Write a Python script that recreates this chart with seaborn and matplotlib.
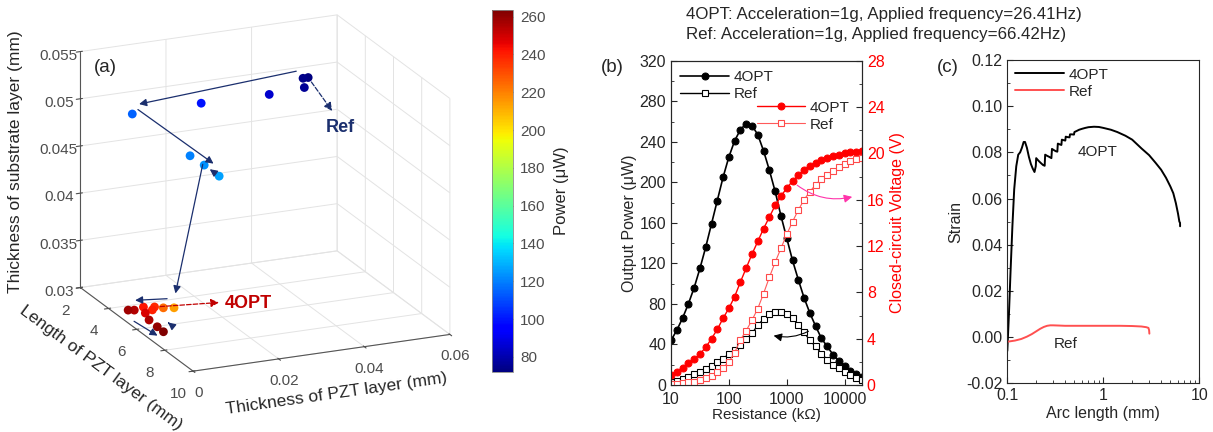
import numpy as np
import seaborn as sns
import matplotlib
matplotlib.use("Agg")
import matplotlib.pyplot as plt
from matplotlib.patches import FancyArrowPatch
from matplotlib.ticker import MultipleLocator, FormatStrFormatter, FixedLocator, LogLocator, NullFormatter
from mpl_toolkits.mplot3d import proj3d

# ---------------- data ----------------
# (a) design points: PZT thickness (mm), PZT length (mm), substrate thickness (mm), power (uW)
pzt_thk = [0.0438, 0.0450, 0.0441, 0.0359, 0.0200, 0.0039, 0.0174, 0.0207, 0.0242,
           0.0029, 0.0041, 0.0067, 0.0055, 0.0077, 0.0089, 0.0104, 0.0125, 0.0044, 0.0042, 0.0041]
pzt_len = [4.5, 4.5, 4.5, 4.5, 4.5, 4.5, 4.5, 4.5, 4.5,
           4.51, 4.58, 4.44, 4.94, 4.77, 4.56, 4.73, 4.85, 5.54, 6.18, 6.65]
sub_thk = [0.0521, 0.0521, 0.0511, 0.0509, 0.0510, 0.0509, 0.0456, 0.0444, 0.0430,
           0.0302, 0.0302, 0.0302, 0.0302, 0.0302, 0.0302, 0.0302, 0.0302, 0.0302, 0.0302, 0.0302]
power_pts = [74, 72, 76, 85, 99, 114, 120, 123, 126,
             258, 255, 242, 248, 240, 238, 224, 214, 256, 260, 263]
# optimisation path arrows: (from index, to index, offset in data units)
path_arrows = [(0, 5, (0, 0, 0.0009)), (5, 8, (0, 0, 0.0009)), (8, 7, (0, 0, 0)),
               (7, 16, (0, 0, 0.0008)), (16, 9, (0, 0, 0.0010)), (9, 19, (0, 0, -0.0008)),
               (19, 18, (0.0025, 0, 0.0003))]

# (b) resistance sweep
resistance = [10 ** (1 + 0.1 * k) for k in range(34)]
power_4opt = [44, 54, 66, 80, 96, 115, 136, 159, 182, 205, 225, 241, 252, 258, 256, 247, 231,
              212, 191, 167, 145, 123, 104, 86, 71, 58, 46, 38, 30, 24, 19, 14, 10.5, 8]
power_ref = [2.6, 4.3, 6, 8, 11, 13, 16, 19, 22.5, 26, 30.5, 34.5, 39, 45, 51, 59, 65,
             70, 72, 72, 70, 66, 59, 52, 44, 38, 31, 25, 20, 16.5, 13, 10, 7, 5]
volt_4opt = [0.86, 1.15, 1.5, 1.87, 2.22, 2.68, 3.25, 4.0, 4.8, 5.76, 6.62, 7.63, 8.9, 10.1,
             11.3, 12.4, 13.5, 14.5, 15.5, 16.3, 17.0, 17.6, 18.1, 18.6, 18.9, 19.2, 19.4,
             19.6, 19.8, 19.9, 20.0, 20.1, 20.15, 20.2]
volt_ref = [0.05, 0.1, 0.15, 0.22, 0.3, 0.42, 0.58, 0.8, 1.1, 1.5, 2.0, 2.8, 3.9, 4.7, 5.6,
            6.6, 7.9, 9.3, 10.6, 11.8, 13.0, 14.1, 15.1, 16.0, 16.7, 17.3, 17.8, 18.1, 18.5,
            18.8, 19.1, 19.3, 19.5, 19.6]

# (c) strain along arc length
arc_4opt = [0.100, 0.104, 0.108, 0.113, 0.118, 0.124, 0.130, 0.136, 0.142, 0.148, 0.153,
            0.160, 0.168, 0.176, 0.184, 0.192, 0.198, 0.200, 0.210, 0.222, 0.236, 0.245,
            0.248, 0.260, 0.275, 0.288, 0.292, 0.305, 0.320, 0.332, 0.336, 0.350, 0.366,
            0.370, 0.385, 0.402, 0.406, 0.425, 0.445, 0.450, 0.470, 0.495, 0.50, 0.53, 0.56,
            0.60, 0.65, 0.70, 0.80, 0.90, 1.0, 1.2, 1.4, 1.7, 2.0, 2.5, 3.0, 3.5, 4.0, 4.5,
            5.0, 5.36, 5.7, 6.0, 6.2, 6.3, 6.31]
strain_4opt = [-0.006, 0.010, 0.028, 0.048, 0.064, 0.074, 0.079, 0.080, 0.082, 0.0845, 0.0845,
               0.082, 0.078, 0.075, 0.073, 0.0715, 0.074, 0.0775, 0.0765, 0.0755, 0.0745, 0.0742,
               0.079, 0.0785, 0.078, 0.0775, 0.0815, 0.081, 0.0805, 0.0803, 0.0838, 0.0835, 0.0832,
               0.0855, 0.0853, 0.0851, 0.0868, 0.0866, 0.0865, 0.0878, 0.0878, 0.0877, 0.0888,
               0.0893, 0.0898, 0.0902, 0.0906, 0.0909, 0.0911, 0.0910, 0.0906, 0.0898, 0.0888,
               0.0872, 0.0855, 0.0817, 0.0788, 0.0755, 0.0725, 0.069, 0.0652, 0.0623, 0.058,
               0.0535, 0.050, 0.0495, 0.048]
arc_ref = [0.100, 0.12, 0.14, 0.16, 0.18, 0.20, 0.22, 0.24, 0.26, 0.28, 0.30, 0.35, 0.4, 0.5,
           0.7, 1.0, 1.5, 2.0, 2.5, 2.8, 2.95, 3.0, 3.02]
strain_ref = [-0.002, -0.0015, -0.0008, 0.0002, 0.0013, 0.0025, 0.0036, 0.0044, 0.0049,
              0.0051, 0.0051, 0.005, 0.0049, 0.0049, 0.0049, 0.0049, 0.0049, 0.0048, 0.0046,
              0.0043, 0.0040, 0.0030, 0.0015]

# ---------------- style ----------------
sns.set_style("ticks")
plt.rcParams['font.family'] = ['Liberation Sans', 'DejaVu Sans']
plt.rcParams['xtick.direction'] = 'in'
plt.rcParams['ytick.direction'] = 'in'
plt.rcParams['axes.linewidth'] = 0.8

W, H = 1213, 432
fig = plt.figure(figsize=(W / 100, H / 100), dpi=100)

NAVY = '#1b2f6e'
DKRED = '#c00000'
GREY = '#4d4d4d'


class Arrow3D(FancyArrowPatch):
    def __init__(self, p0, p1, **kw):
        super().__init__((0, 0), (0, 0), **kw)
        self._verts3d = p0, p1

    def do_3d_projection(self, renderer=None):
        p0, p1 = self._verts3d
        xs, ys, zs = proj3d.proj_transform(np.array([p0[0], p1[0]]), np.array([p0[1], p1[1]]),
                                           np.array([p0[2], p1[2]]), self.axes.M)
        self.set_positions((xs[0], ys[0]), (xs[1], ys[1]))
        return np.min(zs)


# ---------------- (a) 3D scatter ----------------
ax3 = fig.add_axes([0.011, 0.0125, 0.405, 1.053], projection='3d', proj_type='ortho')
ax3.set_box_aspect((1, 1, 0.89), zoom=1.0)
ax3.view_init(elev=19, azim=-113.7)
ax3.set_xlim(0, 0.06)
ax3.set_ylim(10, 2)
ax3.set_zlim(0.03, 0.055)
sc = ax3.scatter(pzt_thk, pzt_len, sub_thk, c=power_pts, cmap='jet', vmin=72, vmax=263.5,
                 s=40, depthshade=False, edgecolors='none')
ax3.set_xticks([0, 0.02, 0.04, 0.06])
ax3.set_yticks([2, 4, 6, 8, 10])
ax3.set_zticks([0.03, 0.035, 0.04, 0.045, 0.05, 0.055])
for a in (ax3.xaxis, ax3.yaxis, ax3.zaxis):
    a.set_major_formatter(FormatStrFormatter('%g'))
    a.get_offset_text().set_visible(False)
    a.set_pane_color((1, 1, 1, 0))
    a.pane.set_edgecolor('#d9d9d9')
    a._axinfo['grid'].update(color='#e3e3e3', linewidth=0.7)
    a.line.set_color('#555555')
    a.line.set_linewidth(0.8)
ax3.tick_params(labelsize=11, colors=GREY, pad=2)
ax3.tick_params(axis='x', pad=0)
ax3.set_xlabel('Thickness of PZT layer (mm)', fontsize=12.5, color='#262626', labelpad=1)
ax3.set_ylabel('Length of PZT layer (mm)', fontsize=12.5, color='#262626', labelpad=3)
ax3.set_zlabel('Thickness of substrate layer (mm)', fontsize=12.5, color='#262626', labelpad=9)
fig.text(105 / W, 1 - 67 / H, '(a)', fontsize=13.5, color='#262626', ha='center', va='center')

pts = list(zip(pzt_thk, pzt_len, sub_thk))
for i0, i1, off in path_arrows:
    p0 = np.add(pts[i0], off)
    p1 = np.add(pts[i1], off)
    ax3.add_artist(Arrow3D(p0, p1, arrowstyle='-|>', mutation_scale=11, color=NAVY,
                           lw=0.9, shrinkA=5, shrinkB=5))
# dashed pointers to the labels
ref_lab = (0.0506, 4.5, 0.0482)
opt_lab = (0.0227, 4.94, 0.0302)
ax3.add_artist(Arrow3D(pts[1], ref_lab, arrowstyle='-|>', mutation_scale=12, color=NAVY,
                       lw=0.9, ls='--', shrinkA=4, shrinkB=0))
ax3.add_artist(Arrow3D(pts[14], opt_lab, arrowstyle='-|>', mutation_scale=12, color=DKRED,
                       lw=0.9, ls='--', shrinkA=4, shrinkB=0))
ax3.text(0.0525, 4.5, 0.0463, 'Ref', color=NAVY, fontsize=13, fontweight='bold',
         ha='center', va='center')
ax3.text(0.0236, 5.07, 0.0302, '4OPT', color=DKRED, fontsize=13, fontweight='bold',
         ha='left', va='center')

cax = fig.add_axes([492 / W, 1 - 372 / H, 21 / W, 362 / H])
cb = fig.colorbar(sc, cax=cax, ticks=np.arange(80, 261, 20))
cb.outline.set_edgecolor('#888888')
cb.outline.set_linewidth(0.6)
cax.tick_params(direction='in', length=3, labelsize=11, colors=GREY, pad=5)
cb.set_label('Power (μW)', fontsize=12, color='#262626', labelpad=6)

# ---------------- (b) power / voltage vs resistance ----------------
axb = fig.add_axes([671 / W, 1 - 385 / H, 191 / W, 324.3 / H])
sns.lineplot(x=resistance, y=power_4opt, ax=axb, color='k', lw=1.2, marker='o',
             markersize=5, markeredgecolor='k', label='4OPT')
sns.lineplot(x=resistance, y=power_ref, ax=axb, color='k', lw=1.0, marker='s',
             markersize=5, markerfacecolor='white', markeredgecolor='k',
             markeredgewidth=0.8, label='Ref')
axb.set_xscale('log')
axb.set_xlim(10, 2e4)
axb.set_ylim(0, 320)
axb.yaxis.set_major_locator(MultipleLocator(40))
axb.yaxis.set_minor_locator(MultipleLocator(20))
axb.xaxis.set_major_locator(FixedLocator([10, 100, 1000, 10000]))
axb.xaxis.set_major_formatter(FormatStrFormatter('%d'))
axb.xaxis.set_minor_locator(LogLocator(base=10, subs=np.arange(2, 10)))
axb.xaxis.set_minor_formatter(NullFormatter())
axb.tick_params(which='both', direction='in', labelsize=11.5, top=False)
axb.tick_params(axis='x', pad=5)
axb.tick_params(which='major', length=4)
axb.tick_params(which='minor', length=2)
axb.set_xlabel('Resistance (kΩ)', fontsize=11, labelpad=1)
axb.set_ylabel('Output Power (μW)', fontsize=11.5, labelpad=2)
axb.legend(loc='upper left', frameon=False, fontsize=11, handlelength=3.2,
           borderaxespad=0.2, handletextpad=0.3, labelspacing=0.2)

axv = axb.twinx()
sns.lineplot(x=resistance, y=volt_4opt, ax=axv, color='#ff0000', lw=1.0, marker='o',
             markersize=5, markeredgecolor='#ff0000', label='4OPT')
sns.lineplot(x=resistance, y=volt_ref, ax=axv, color='#ff5a5a', lw=0.8, marker='s',
             markersize=5, markerfacecolor='white', markeredgecolor='#ff4a4a',
             markeredgewidth=0.8, label='Ref')
axv.set_ylim(0, 28)
axv.yaxis.set_major_locator(MultipleLocator(4))
axv.yaxis.set_minor_locator(MultipleLocator(2))
axv.tick_params(which='both', direction='in', labelsize=11.5, labelcolor='#ff0000')
axv.tick_params(which='major', length=4)
axv.tick_params(which='minor', length=2)
axv.set_ylabel('Closed-circuit Voltage (V)', fontsize=11.5, color='#ff0000', labelpad=4)
axv.legend(loc='upper left', bbox_to_anchor=(0.40, 0.905), frameon=False, fontsize=11,
           handlelength=3.2, borderaxespad=0.2, handletextpad=0.3, labelspacing=0.2)
axv.annotate('', xy=(15070, 16.3), xytext=(1387, 17.4),
             arrowprops=dict(arrowstyle='-|>', color='#ff33aa', lw=0.8,
                             connectionstyle='arc3,rad=0.25', mutation_scale=12))
axb.annotate('', xy=(533, 49.3), xytext=(2620, 54.3),
             arrowprops=dict(arrowstyle='-|>', color='k', lw=0.8,
                             connectionstyle='arc3,rad=-0.2', mutation_scale=12))
fig.text(612 / W, 1 - 68 / H, '(b)', fontsize=13.5, ha='center', va='center')

fig.text(686 / W, 1 - 15 / H, '4OPT: Acceleration=1g, Applied frequency=26.41Hz)',
         fontsize=12.2, ha='left', va='center')
fig.text(686 / W, 1 - 34 / H, 'Ref: Acceleration=1g, Applied frequency=66.42Hz)',
         fontsize=12.2, ha='left', va='center')

# ---------------- (c) strain ----------------
axc = fig.add_axes([1007.3 / W, 1 - 383.3 / H, 192 / W, 323.3 / H])
sns.lineplot(x=arc_4opt, y=strain_4opt, ax=axc, color='k', lw=1.4, sort=False, label='4OPT')
sns.lineplot(x=arc_ref, y=strain_ref, ax=axc, color='#ff5050', lw=1.4, sort=False, label='Ref')
axc.set_xscale('log')
axc.set_xlim(0.1, 10)
axc.set_ylim(-0.02, 0.12)
axc.yaxis.set_major_locator(MultipleLocator(0.02))
axc.yaxis.set_minor_locator(MultipleLocator(0.01))
axc.yaxis.set_major_formatter(FormatStrFormatter('%.2f'))
axc.xaxis.set_major_locator(FixedLocator([0.1, 1, 10]))
axc.xaxis.set_major_formatter(FormatStrFormatter('%g'))
axc.xaxis.set_minor_locator(LogLocator(base=10, subs=np.arange(2, 10)))
axc.xaxis.set_minor_formatter(NullFormatter())
axc.tick_params(which='both', direction='in', labelsize=11.5)
axc.tick_params(which='major', length=4)
axc.tick_params(which='minor', length=2)
axc.set_xlabel('Arc length (mm)', fontsize=11.5, labelpad=2)
axc.set_ylabel('Strain', fontsize=11.5, labelpad=2)
axc.legend(loc='upper left', frameon=False, fontsize=11, handlelength=3.2,
           borderaxespad=0.1, handletextpad=0.3, labelspacing=0.2)
axc.text(0.87, 0.0803, '4OPT', fontsize=11, ha='center', va='center')
axc.text(0.41, -0.003, 'Ref', fontsize=11, ha='center', va='center')
fig.text(948 / W, 1 - 68 / H, '(c)', fontsize=13.5, ha='center', va='center')

fig.savefig('out.png', dpi=100)
